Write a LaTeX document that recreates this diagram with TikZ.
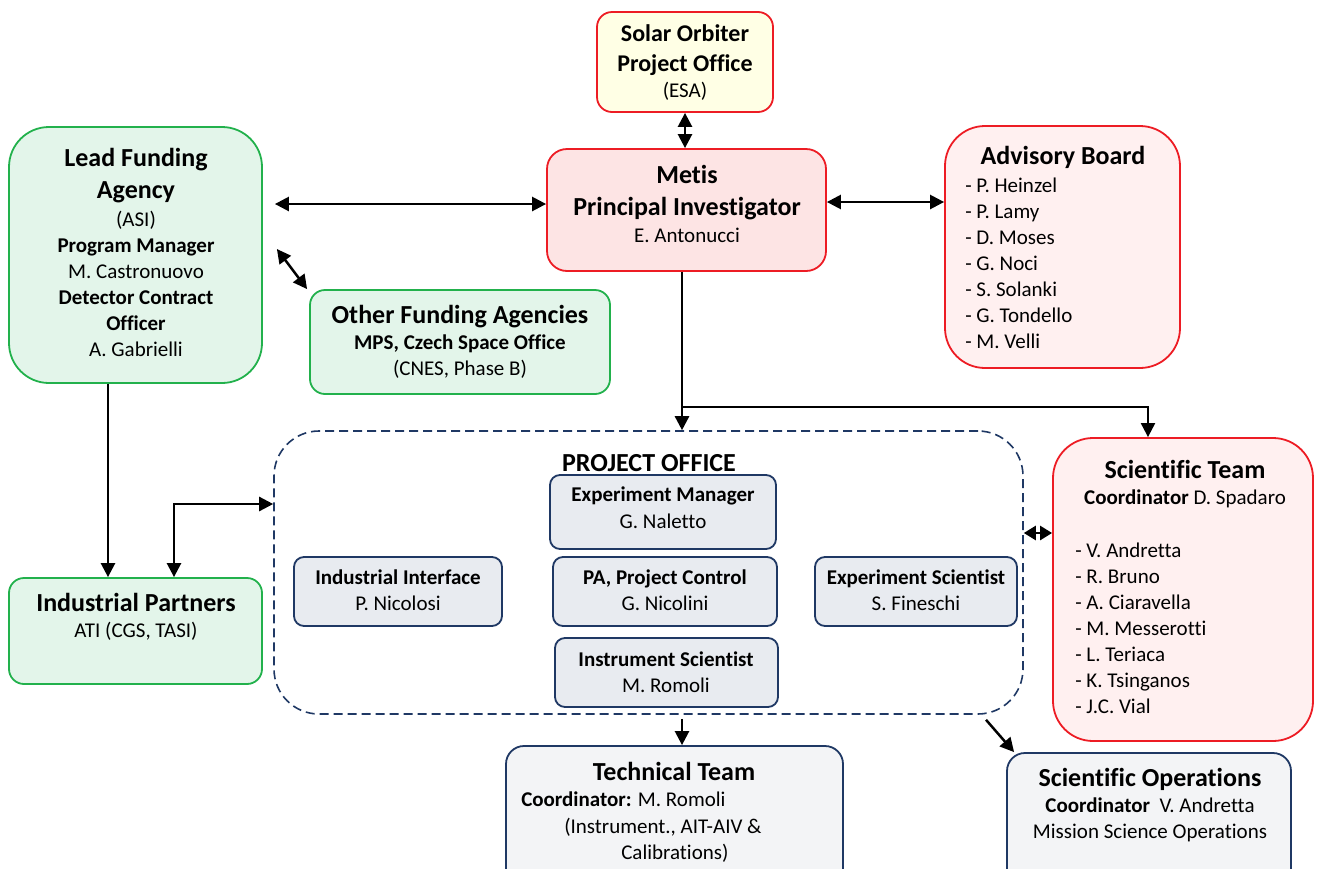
\documentclass[tikz,border=0pt]{standalone}
\usepackage{fontspec}
\setmainfont{Carlito}[Ligatures=NoCommon]
\usetikzlibrary{arrows.meta,positioning}
\definecolor{orgred}{RGB}{237,28,36}
\definecolor{orggreen}{RGB}{34,177,76}
\definecolor{orgnavy}{RGB}{31,56,100}
\definecolor{solarfill}{RGB}{255,255,229}
\definecolor{pifill}{RGB}{253,228,228}
\definecolor{boardfill}{RGB}{255,240,240}
\definecolor{fundfill}{RGB}{227,245,234}
\definecolor{officefill}{RGB}{232,235,240}
\definecolor{teamfill}{RGB}{243,244,246}
\newcommand{\boxtitle}[1]{{\fontsize{26}{32}\selectfont\bfseries #1}}

\begin{document}
\begin{tikzpicture}[x=1pt,y=-1pt,>={Triangle[length=14pt,width=14pt]},line width=2.5pt,
  font=\fontsize{21}{26}\selectfont]
\tikzstyle{box}=[draw,line width=1.8pt,rounded corners=15pt,inner sep=0pt]
\tikzstyle{red box}=[box,draw=orgred]
\tikzstyle{green box}=[box,draw=orggreen,fill=fundfill]
\tikzstyle{navy box}=[box,draw=orgnavy,fill=officefill,rounded corners=10pt]
\tikzstyle{txt}=[align=center,anchor=north,inner sep=0pt]
\tikzstyle{lst}=[align=left,anchor=north west,inner sep=0pt]
\useasboundingbox (0,0) rectangle (1318,868);

% boxes
\node[red box,fill=solarfill,minimum width=176pt,minimum height=100pt] (solar) at (685,62) {};
\node[red box,fill=pifill,rounded corners=20pt,minimum width=279pt,minimum height=122pt] (metis) at (686.5,210) {};
\node[red box,fill=boardfill,rounded corners=40pt,minimum width=235pt,minimum height=242pt] (board) at (1062.5,247) {};
\node[green box,rounded corners=40pt,minimum width=253pt,minimum height=256pt] (lead) at (135.5,255) {};
\node[green box,minimum width=300pt,minimum height=104pt] (other) at (460,342) {};
\node[green box,minimum width=253pt,minimum height=106pt] (indpart) at (135.5,631) {};
\node[draw=orgnavy,line width=1.6pt,dash pattern=on 9pt off 5pt,rounded corners=45pt,
  minimum width=749pt,minimum height=283pt] (po) at (648.5,572.5) {};
\node[navy box,minimum width=226pt,minimum height=74pt] (expman) at (663,512) {};
\node[navy box,minimum width=224pt,minimum height=69pt] (pactl) at (665,591.5) {};
\node[navy box,minimum width=223pt,minimum height=69pt] (instsci) at (666.5,672.5) {};
\node[navy box,minimum width=208pt,minimum height=69pt] (indint) at (398,591.5) {};
\node[navy box,minimum width=202pt,minimum height=69pt] (expsci) at (916,591.5) {};
\node[red box,fill=boardfill,rounded corners=40pt,minimum width=260pt,minimum height=303pt] (sci) at (1183,589.5) {};
\node[navy box,fill=teamfill,rounded corners=18pt,minimum width=337pt,minimum height=144pt] (tech) at (674.5,818) {};
\node[navy box,fill=teamfill,rounded corners=18pt,minimum width=284pt,minimum height=137pt] (sciops) at (1149,821.5) {};

% texts
\node[txt] (solartxt) at (685,23) {{\fontsize{24}{30}\selectfont\bfseries Solar Orbiter}\\[4pt]
  {\fontsize{24}{30}\selectfont\bfseries Project Office}\\(ESA)};
\node[txt] (metistxt) at (687,164) {\boxtitle{Metis}\\[6pt]\boxtitle{Principal Investigator}\\[1.4pt]E. Antonucci};
\node[txt] (boardttl) at (1063,145) {\boxtitle{Advisory Board}};
\node[lst] (boardlst) at (964,177) {- P. Heinzel\\- P. Lamy\\- D. Moses\\- G. Noci\\- S. Solanki\\- G. Tondello\\- M. Velli};
\node[txt] (leadtxt) at (136,147) {\boxtitle{Lead Funding}\\[6pt]\boxtitle{Agency}\\[2.4pt](ASI)\\
  \textbf{Program Manager}\\M. Castronuovo\\\textbf{Detector Contract}\\\textbf{Officer}\\A. Gabrielli};
\node[txt] (othertxt) at (460,304) {\boxtitle{Other Funding Agencies}\\[0.4pt]\textbf{MPS, Czech Space Office}\\(CNES, Phase B)};
\node[txt] (indparttxt) at (136,592) {\boxtitle{Industrial Partners}\\[0.4pt]ATI (CGS, TASI)};
\node[txt] (pottl) at (649,453) {\boxtitle{PROJECT OFFICE}};
\node[txt] (expmantxt) at (663,486) {\textbf{Experiment Manager}\\[1pt]G. Naletto};
\node[txt] (pactltxt) at (665,569) {\textbf{PA, Project Control}\\G. Nicolini};
\node[txt] (instscitxt) at (666,651) {\textbf{Instrument Scientist}\\M. Romoli};
\node[txt] (indinttxt) at (398,569) {\textbf{Industrial Interface}\\P. Nicolosi};
\node[txt] (expscitxt) at (916,569) {\textbf{Experiment Scientist}\\S. Fineschi};
\node[txt] (scittl) at (1185,459) {\boxtitle{Scientific Team}\\[0.4pt]\textbf{Coordinator} D. Spadaro};
\node[lst] (scilst) at (1074,542) {- V. Andretta\\- R. Bruno\\- A. Ciaravella\\- M. Messerotti\\- L. Teriaca\\- K. Tsinganos\\- J.C. Vial};
\node[txt] (techttl) at (674,761) {\boxtitle{Technical Team}};
\node[lst] (techtxt) at (520,791) {\textbf{Coordinator:} M. Romoli\\[0.5pt]
  \hspace*{43pt}(Instrument., AIT-AIV \&\\[0.5pt]\hspace*{100pt}Calibrations)};
\node[txt] (sciopstxt) at (1150,767) {\boxtitle{Scientific Operations}\\[0.4pt]\textbf{Coordinator}\ \ V. Andretta\\
  Mission Science Operations};

% connectors
\draw[<->] (solar.south) -- (solar.south |- metis.north);
\draw[<->] ([shift={(12pt,51pt)}]lead.east) -- ([yshift=6pt]metis.west);
\draw[<->] ([yshift=8pt]metis.east) -- ([yshift=45pt]board.west);
\draw[<->] ([shift={(14pt,6pt)}]lead.east) -- ([xshift=-2pt]other.north west);
\draw[->] ([xshift=-4.5pt]metis.south) -- ([xshift=-4.5pt]metis.south |- po.north);
\draw[->,line width=2pt] ([shift={(-4.5pt,-135pt)}]metis.south) -| ([xshift=-35pt]sci.north);
\draw[->] ([xshift=-27.5pt]lead.south) -- ([xshift=-27.5pt]indpart.north);
\draw[<->] ([xshift=38.5pt]indpart.north) |- ([yshift=68.5pt]po.west);
\draw[<->,>={Triangle[length=12pt,width=14pt]}] ([yshift=39.5pt]po.east) -- ([yshift=56.5pt]sci.west);
\draw[->] ([shift={(33.5pt,-4pt)}]po.south) -- ([xshift=7.5pt]tech.north);
\draw[->] ([shift={(337.5pt,-5pt)}]po.south) -- ([xshift=8pt]sciops.north west);
\end{tikzpicture}
\end{document}
